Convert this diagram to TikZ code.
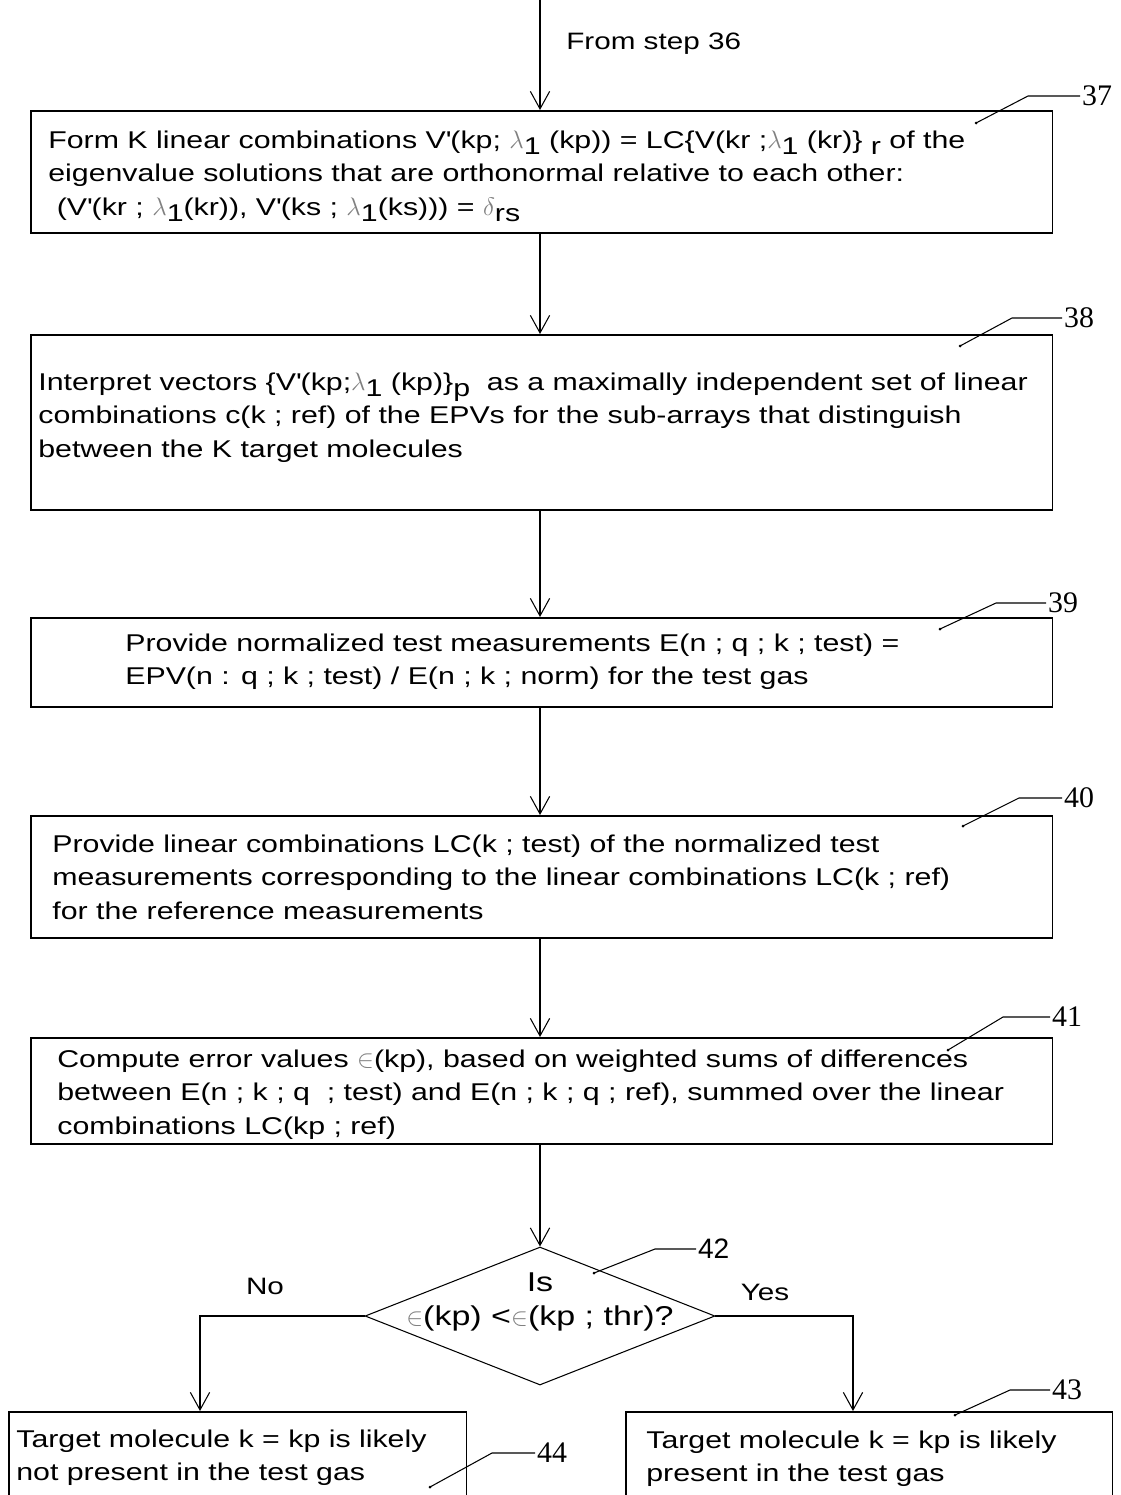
\documentclass[tikz,border=0pt]{standalone}
\usepackage{fontspec}
\setmainfont{Liberation Sans}[FakeStretch=1.25]
\newfontfamily\numfont{Liberation Serif}
\newfontfamily\plainsans{Liberation Sans}
\usepackage{xcolor}
\usetikzlibrary{calc}
\usetikzlibrary{arrows.meta}
\usetikzlibrary{shapes.geometric}

% grey symbols as in the figure
\newcommand{\lamone}{\textcolor{gray}{$\lambda$}\raisebox{-0.45ex}{1}}
\newcommand{\sbs}[1]{\raisebox{-0.45ex}{#1}}
\newcommand{\errsym}{\textcolor{gray}{$\in$}}
\newcommand{\ap}{\textquotesingle}

\begin{document}
\begin{tikzpicture}[x=0.02cm,y=-0.02cm,
		box/.style={draw,line width=0.9pt,rectangle,anchor=north west,inner sep=0pt},
		txt/.style={anchor=north west,align=left,inner sep=0pt,font=\fontsize{13.8}{19.1}\selectfont},
		flow/.style={-{Straight Barb[length=10pt,width=11pt]},line width=0.6pt},
		lead/.style={line width=0.6pt},
		refnum/.style={anchor=west,inner sep=1pt,font=\numfont\fontsize{17}{17}\selectfont},
		tag/.style={inner sep=0pt,font=\fontsize{13.5}{17}\selectfont}]
		\useasboundingbox (0,0) rectangle (1120,1495);
		% boxes
		\node[box,minimum width=20.44cm,minimum height=2.44cm] (b37) at (30,110) {};
		\node[box,minimum width=20.44cm,minimum height=3.5cm] (b38) at (30,334) {};
		\node[box,minimum width=20.44cm,minimum height=1.78cm] (b39) at (30,617) {};
		\node[box,minimum width=20.44cm,minimum height=2.44cm] (b40) at (30,815) {};
		\node[box,minimum width=20.44cm,minimum height=2.12cm] (b41) at (30,1037) {};
		\node[draw,diamond,line width=0.6pt,minimum width=7cm,minimum height=2.76cm,inner sep=0pt] (d42) at (540,1316) {};
		\node[box,minimum width=9.16cm,minimum height=2cm] (b44) at (8,1411) {};
		\node[box,minimum width=9.74cm,minimum height=2cm] (b43) at (625,1411) {};
		% texts
		\node[txt] (t37) at (48,130.5) {Form K linear combinations V\ap(kp; \lamone\ (kp)) = LC\{V(kr ;\lamone\ (kr)\} \sbs{r} of the\\
			eigenvalue solutions that are orthonormal relative to each other:\\
			\ (V\ap(kr ; \lamone(kr)), V\ap(ks ; \lamone(ks))) = \textcolor{gray}{$\delta$}\sbs{rs}};
		\node[txt] (t38) at (38,372.5) {Interpret vectors \{V\ap(kp;\lamone\ (kp)\}\sbs{p}\ \ as a maximally independent set of linear\\
			combinations c(k ; ref) of the EPVs for the sub-arrays that distinguish\\
			between the K target molecules};
		\node[txt] (t39) at (125,633.5) {Provide normalized test measurements E(n ; q ; k ; test) =\\
			EPV(n : q ; k ; test) / E(n ; k ; norm) for the test gas};
		\node[txt] (t40) at (52,834.5) {Provide linear combinations LC(k ; test) of the normalized test\\
			measurements corresponding to the linear combinations LC(k ; ref)\\
			for the reference measurements};
		\node[txt] (t41) at (57,1049.5) {Compute error values \errsym(kp), based on weighted sums of differences\\
			between E(n ; k ; q \ ; test) and E(n ; k ; q ; ref), summed over the linear\\
			combinations LC(kp ; ref)};
		\node[txt,align=center,anchor=center,font=\fontsize{15.5}{19.5}\selectfont] (t42) at (540,1302) {Is\\\errsym(kp) <\errsym(kp ; thr)?};
		\node[txt] (t44) at (16,1429.5) {Target molecule k = kp is likely\\not present in the test gas};
		\node[txt] (t43) at (646,1430.5) {Target molecule k = kp is likely\\present in the test gas};
		% flow
		\coordinate (s36) at (540,0);
		\node[tag,anchor=west] (from36) at (566,44) {From step 36};
		\draw[flow] (s36) -- (b37.north -| s36);
		\draw[flow] (b37.south -| s36) -- (b38.north -| s36);
		\draw[flow] (b38.south -| s36) -- (b39.north -| s36);
		\draw[flow] (b39.south -| s36) -- (b40.north -| s36);
		\draw[flow] (b40.south -| s36) -- (b41.north -| s36);
		\draw[flow] (b41.south -| s36) -- (d42.north);
		\coordinate (in44) at (200,1411);
		\coordinate (in43) at (853,1411);
		\draw[flow] (d42.west) -| (in44);
		\draw[flow] (d42.east) -| (in43);
		\node[tag] (no) at (265,1286) {No};
		\node[tag] (yes) at (765,1292) {Yes};
		% reference numerals
		\node[refnum] (n37) at (1080,96) {37};
		\node[refnum] (n38) at (1062,318) {38};
		\node[refnum] (n39) at (1046,603) {39};
		\node[refnum] (n40) at (1062,798) {40};
		\node[refnum] (n41) at (1050,1017) {41};
		\node[refnum,font=\plainsans\fontsize{16}{16}\selectfont] (n42) at (696,1249) {42};
		\node[refnum] (n43) at (1050,1390) {43};
		\node[refnum] (n44) at (535,1453) {44};
		\coordinate (p37) at (976,123);
		\coordinate (p38) at (960,346);
		\coordinate (p39) at (940,629);
		\coordinate (p40) at (963,826);
		\coordinate (p41) at (948,1050);
		\coordinate (p42) at (594,1273);
		\coordinate (p43) at (955,1415);
		\coordinate (p44) at (430,1487);
		\foreach \k/\d in {37/52,38/50,39/50,40/43,41/47,42/41,43/40,44/43}{
			\fill (p\k) circle (1.5);
			\draw[lead] (p\k) -- ($(n\k.west)+(-\d,0)$) -- (n\k.west);
		}
\end{tikzpicture}
\end{document}
